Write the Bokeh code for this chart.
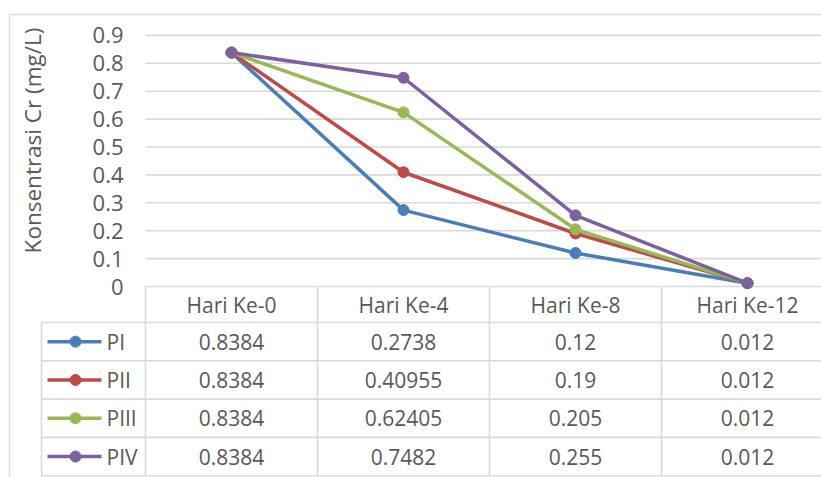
import math
from bokeh.plotting import figure
from bokeh.models import Range1d
from bokeh.core.properties import value
from bokeh.embed import file_html
from bokeh.resources import INLINE

# ---- data ----
categories = ["Hari Ke-0", "Hari Ke-4", "Hari Ke-8", "Hari Ke-12"]
series_names = ["PI", "PII", "PIII", "PIV"]
pi_vals = [0.8384, 0.2738, 0.12, 0.012]
pii_vals = [0.8384, 0.40955, 0.19, 0.012]
piii_vals = [0.8384, 0.62405, 0.205, 0.012]
piv_vals = [0.8384, 0.7482, 0.255, 0.012]
y_ticks = [0, 0.1, 0.2, 0.3, 0.4, 0.5, 0.6, 0.7, 0.8, 0.9]
y_tick_labels = ["0", "0.1", "0.2", "0.3", "0.4", "0.5", "0.6", "0.7", "0.8", "0.9"]
y_title = "Konsentrasi Cr (mg/L)"

series = [pi_vals, pii_vals, piii_vals, piv_vals]
colors = ["#4A7EBB", "#BE4B48", "#98B954", "#7D60A0"]

# ---- layout (pixels) ----
W, H = 821, 477
PLOT_LEFT = 145.0
CAT_W = 172.0
ZERO_Y = 286.0
UNIT = 279.0  # px per 1.0
TABLE_LEFT = 41.0
HEADER_BOTTOM = 322.0
ROW_H = 38.3

def X(px):
    return (px - PLOT_LEFT) / CAT_W

def Y(py):
    return (ZERO_Y - py) / UNIT

FONT = value("Open Sans")
TXT = "#595959"
GRID = "#D9D9D9"
FS = "21px"
FS_TICK = "22px"
FS_TITLE = "22.5px"

p = figure(width=W, height=H, x_range=Range1d(X(0), X(W)), y_range=Range1d(Y(H), Y(0)),
           x_axis_type=None, y_axis_type=None, toolbar_location=None,
           output_backend="svg", min_border=0)
p.outline_line_color = None
p.grid.visible = False
p.background_fill_color = "white"
p.border_fill_color = "white"

ncat = len(categories)

# outer chart border (left and top visible)
p.segment(x0=[X(9), X(9)], y0=[Y(14), Y(14)], x1=[X(9), X(W + 20)], y1=[Y(H + 20), Y(14)],
          line_color=GRID, line_width=1.3)

# gridlines
p.segment(x0=[0] * len(y_ticks), x1=[ncat] * len(y_ticks), y0=y_ticks, y1=y_ticks,
          line_color=GRID, line_width=1.6)

# y tick labels
p.text(x=[X(123)] * len(y_ticks), y=y_ticks, text=y_tick_labels, text_align="right",
       text_baseline="middle", text_font=FONT, text_font_size=FS_TICK, text_color=TXT)

# y title
p.text(x=[X(32)], y=[Y(140)], text=[y_title], angle=math.pi / 2, text_align="center",
       text_baseline="middle", text_font=FONT, text_font_size=FS_TITLE, text_color=TXT)

# lines + markers
xs = [i + 0.5 for i in range(ncat)]
for vals, c in zip(series, colors):
    p.line(xs, vals, line_color=c, line_width=3.5)
    p.scatter(xs, vals, size=11, fill_color=c, line_color=c)

# ---- data table ----
nrows = len(series)
row_bounds = [HEADER_BOTTOM + k * ROW_H for k in range(nrows + 1)]
# horizontal lines
p.segment(x0=[X(TABLE_LEFT)] * len(row_bounds), x1=[ncat] * len(row_bounds),
          y0=[Y(b) for b in row_bounds], y1=[Y(b) for b in row_bounds],
          line_color=GRID, line_width=1.6)
# vertical lines
vx = list(range(ncat + 1))
p.segment(x0=vx, x1=vx, y0=[0] * len(vx), y1=[Y(row_bounds[-1])] * len(vx),
          line_color=GRID, line_width=1.6)
p.segment(x0=[X(TABLE_LEFT)], x1=[X(TABLE_LEFT)], y0=[Y(HEADER_BOTTOM)], y1=[Y(row_bounds[-1])],
          line_color=GRID, line_width=1.6)

# header texts
p.text(x=xs, y=[Y((ZERO_Y + HEADER_BOTTOM) / 2)] * ncat, text=categories, text_align="center",
       text_baseline="middle", text_font=FONT, text_font_size=FS, text_color=TXT)

for r, (name, vals, c) in enumerate(zip(series_names, series, colors)):
    cy = Y(row_bounds[r] + ROW_H / 2)
    p.text(x=xs, y=[cy] * ncat, text=[f"{v:g}" for v in vals], text_align="center",
           text_baseline="middle", text_font=FONT, text_font_size=FS, text_color=TXT)
    p.line([X(47), X(101)], [cy, cy], line_color=c, line_width=3.5)
    p.scatter([X(75)], [cy], size=11, fill_color=c, line_color=c)
    p.text(x=[X(106)], y=[cy], text=[name], text_align="left", text_baseline="middle",
           text_font=FONT, text_font_size=FS, text_color=TXT)

open("out.html", "w").write(file_html(p, INLINE))
